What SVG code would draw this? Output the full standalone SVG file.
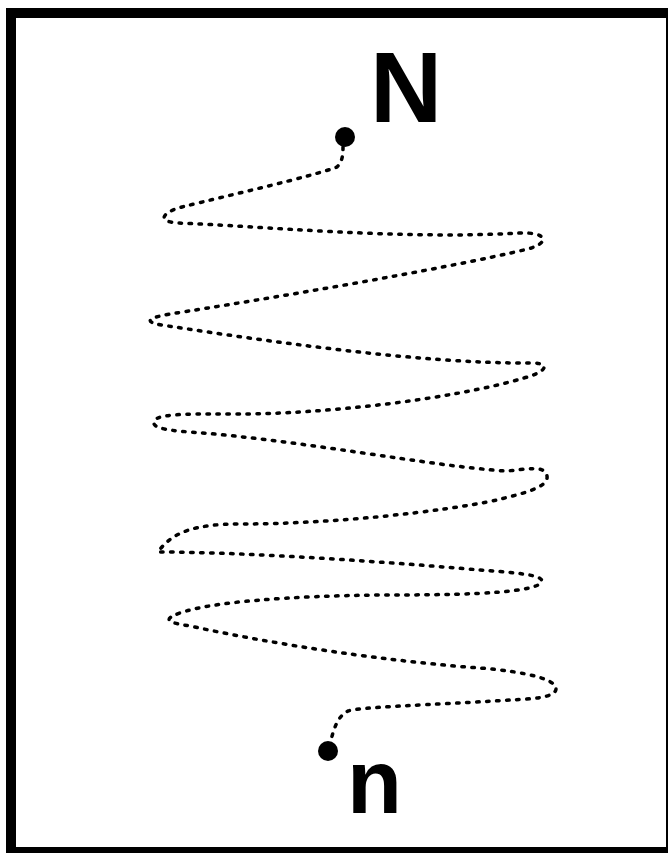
<svg xmlns="http://www.w3.org/2000/svg" width="668" height="853" viewBox="0 0 668 853">
<style>
.frame{fill:#fff;stroke:#000;stroke-width:10}
.lbl{font-family:"Liberation Sans",Arial,sans-serif;font-weight:bold;fill:#000}
.dot{fill:#000}
.wire{fill:none;stroke:#000;stroke-width:3.5;stroke-dasharray:2.5 7.5;stroke-linecap:round}
</style>
<rect class="frame" x="11" y="13" width="660" height="839"/>
<g id="connectors">
<path class="wire" d="M343,147 C343,156 342,162 337,167 C310,177 230,195 182,207 C160,213 158,222 178,223 C260,226 400,240 520,233 C548,232 550,243 528,249 C440,270 260,300 170,314 C142,319 146,323 168,326 C260,340 420,364 532,363 C551,363 547,372 524,378 C450,400 320,414 240,414 C200,414 160,413 155,420 C150,427 162,430 190,432 C300,440 430,466 505,471 C525,470 545,464 547,476 C549,488 520,494 497,500 C440,512 330,524 240,524 C195,524 172,532 158,552 C250,552 400,563 480,570 C540,574 548,578 538,585 C520,594 450,595 380,595 C290,596 210,602 180,613 C160,620 170,623 190,626 C300,650 420,664 480,668 C530,672 555,680 556,688 C557,698 530,699 510,700 C430,705 360,707 348,711 C338,716 334,728 331,740"/>
</g>
<g id="node-N">
<circle class="dot" cx="345" cy="137" r="10"/>
<text class="lbl" x="370" y="122" font-size="100">N</text>
</g>
<g id="node-n">
<circle class="dot" cx="328" cy="751" r="10"/>
<text class="lbl" x="347" y="813" font-size="90">n</text>
</g>
</svg>
